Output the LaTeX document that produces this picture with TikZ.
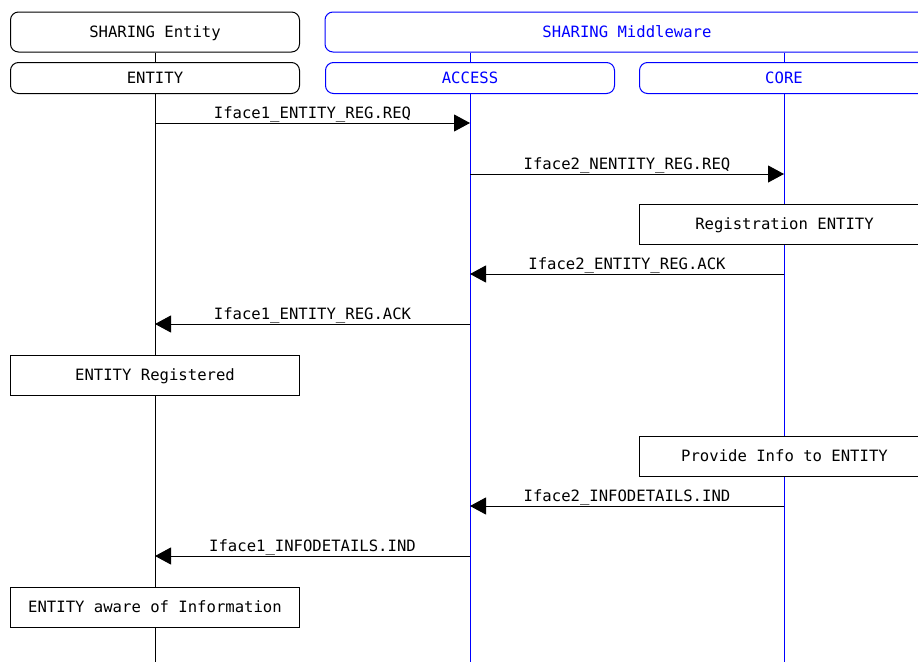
\documentclass[tikz,border=0pt]{standalone}
\usepackage{fontspec}
\setmonofont{DejaVu Sans Mono}
\usetikzlibrary{arrows.meta}
\definecolor{mwblue}{RGB}{0,0,255}
\begin{document}
\begin{tikzpicture}[x=1pt,y=-1pt,line width=1pt,
  every node/.style={font=\ttfamily\fontsize{15.6}{18}\selectfont},
  grpbox/.style={draw,rounded corners=8pt,minimum width=289pt,minimum height=40pt,inner sep=0pt,text depth=0pt},
  lanebox/.style={draw,rounded corners=8pt,minimum width=289pt,minimum height=31pt,inner sep=0pt,text depth=0pt},
  actbox/.style={draw,fill=white,minimum width=289pt,minimum height=40pt,inner sep=0pt,text depth=0pt},
  msg/.style={-{Triangle[length=16pt,width=17pt]}},
  lbl/.style={above=-1.5pt,inner sep=2pt}]
 \useasboundingbox (0,0) rectangle (918,662);
 \clip (0,0) rectangle (918,662);
 % instance heads
 \node[grpbox] (grpEnt) at (155,32) {SHARING Entity};
 \node[grpbox,mwblue,minimum width=604pt] (grpMid) at (627,32) {SHARING Middleware};
 \node[lanebox] (hEntity) at (155,78) {ENTITY};
 \node[lanebox,mwblue] (hAccess) at (470,78) {ACCESS};
 \node[lanebox,mwblue] (hCore) at (784,78) {CORE};
 \coordinate (endEntity) at (155,662);
 \coordinate (endAccess) at (470,662);
 \coordinate (endCore) at (784,662);
 % lifelines
 \draw (grpEnt) -- (hEntity);
 \draw[mwblue] (hAccess |- grpMid.south) -- (hAccess);
 \draw[mwblue] (hCore |- grpMid.south) -- (hCore);
 \draw (hEntity) -- (endEntity);
 \draw[mwblue] (hAccess) -- (endAccess);
 \draw[mwblue] (hCore) -- (endCore);
 % message rows
 \foreach \y/\n in {123/1,174/2,274/3,324/4,506/5,556/6}{
  \coordinate (E\n) at (155,\y);
  \coordinate (A\n) at (470,\y);
  \coordinate (C\n) at (784,\y);
 }
 \draw[msg] (E1) -- node[lbl] {Iface1\_ENTITY\_REG.REQ} (A1);
 \draw[msg] (A2) -- node[lbl] {Iface2\_NENTITY\_REG.REQ} (C2);
 \node[actbox,minimum width=290pt] (regCore) at (784.5,224) {Registration ENTITY};
 \draw[msg] (C3) -- node[lbl] {Iface2\_ENTITY\_REG.ACK} (A3);
 \draw[msg] (A4) -- node[lbl] {Iface1\_ENTITY\_REG.ACK} (E4);
 \node[actbox] (regEnt) at (155,375) {ENTITY Registered};
 \node[actbox,minimum width=290pt] (infoCore) at (784.5,456) {Provide Info to ENTITY};
 \draw[msg] (C5) -- node[lbl] {Iface2\_INFODETAILS.IND} (A5);
 \draw[msg] (A6) -- node[lbl] {Iface1\_INFODETAILS.IND} (E6);
 \node[actbox] (infoEnt) at (155,607) {ENTITY aware of Information};
\end{tikzpicture}
\end{document}
